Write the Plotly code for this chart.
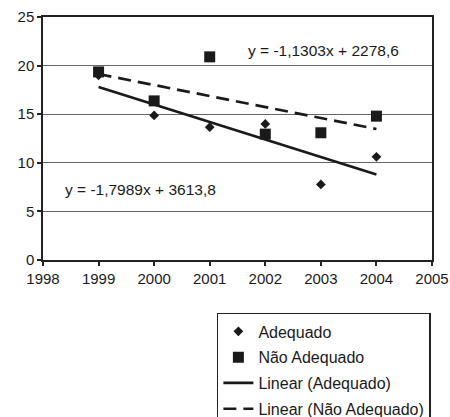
import plotly.graph_objects as go

years = [1999, 2000, 2001, 2002, 2003, 2004]
adequado = [19.0, 14.87, 13.67, 14.0, 7.78, 10.62]
nao_adequado = [19.35, 16.37, 20.9, 12.95, 13.09, 14.8]

# Trendline coefficients as printed on the chart
trend_adequado = [-1.7989, 3613.8]
trend_nao_adequado = [-1.1303, 2278.6]
trend_x = [1999, 2004]

eq_adequado = "y = -1,7989x + 3613,8"
eq_nao_adequado = "y = -1,1303x + 2278,6"

x_ticks = [1998, 1999, 2000, 2001, 2002, 2003, 2004, 2005]
y_ticks = [0, 5, 10, 15, 20, 25]

FONT = "Liberation Sans, Arial, sans-serif"
INK = "#1a1a1a"

fig = go.Figure()
fig.add_trace(go.Scatter(
    x=years, y=adequado, mode="markers", name="Adequado",
    marker=dict(symbol="diamond", size=7.5, color=INK),
    legendgroup="a"))
fig.add_trace(go.Scatter(
    x=years, y=nao_adequado, mode="markers", name="Não Adequado",
    marker=dict(symbol="square", size=11, color=INK),
    legendgroup="b"))
fig.add_trace(go.Scatter(
    x=trend_x, y=[trend_adequado[0] * x + trend_adequado[1] for x in trend_x],
    mode="lines", name="Linear (Adequado)",
    line=dict(color=INK, width=2.7), legendgroup="c"))
fig.add_trace(go.Scatter(
    x=trend_x, y=[trend_nao_adequado[0] * x + trend_nao_adequado[1] for x in trend_x],
    mode="lines", name="Linear (Não Adequado)",
    line=dict(color=INK, width=2.7, dash="13px,7px"), legendgroup="d"))

fig.add_annotation(x=2003.05, y=21.6, text=eq_nao_adequado, showarrow=False,
                   font=dict(family=FONT, size=15.5, color=INK))
fig.add_annotation(x=1999.75, y=7.3, text=eq_adequado, showarrow=False,
                   font=dict(family=FONT, size=15.5, color=INK))

fig.update_layout(
    width=450, height=417,
    margin=dict(l=43, r=18, t=17, b=157, autoexpand=False),
    paper_bgcolor="white", plot_bgcolor="white",
    font=dict(family=FONT, size=15, color=INK),
    legend=dict(
        x=0.447, y=-0.218, xanchor="left", yanchor="top",
        bordercolor="#222", borderwidth=1.5, bgcolor="white",
        font=dict(family=FONT, size=16, color=INK),
        traceorder="grouped", tracegroupgap=2, itemwidth=30,
    ),
    showlegend=True,
)
fig.update_xaxes(
    range=[1998, 2005], tickvals=x_ticks, ticktext=[str(v) for v in x_ticks],
    showgrid=False, zeroline=False,
    showline=True, linecolor="#222", linewidth=1.5, mirror=True,
    ticks="outside", ticklen=4, tickcolor="#222", tickwidth=1.5,
)
fig.update_yaxes(
    range=[0, 25], tickvals=y_ticks, ticktext=[str(v) for v in y_ticks],
    showgrid=True, gridcolor="#666", gridwidth=1.2, zeroline=False,
    showline=True, linecolor="#222", linewidth=1.5, mirror=True,
    ticks="outside", ticklen=4, tickcolor="#222", tickwidth=1.5,
)

fig.write_html(
    "out.html",
    config={"displayModeBar": False},
    post_script="document.body.style.margin='0';document.body.style.overflow='hidden';",
)
